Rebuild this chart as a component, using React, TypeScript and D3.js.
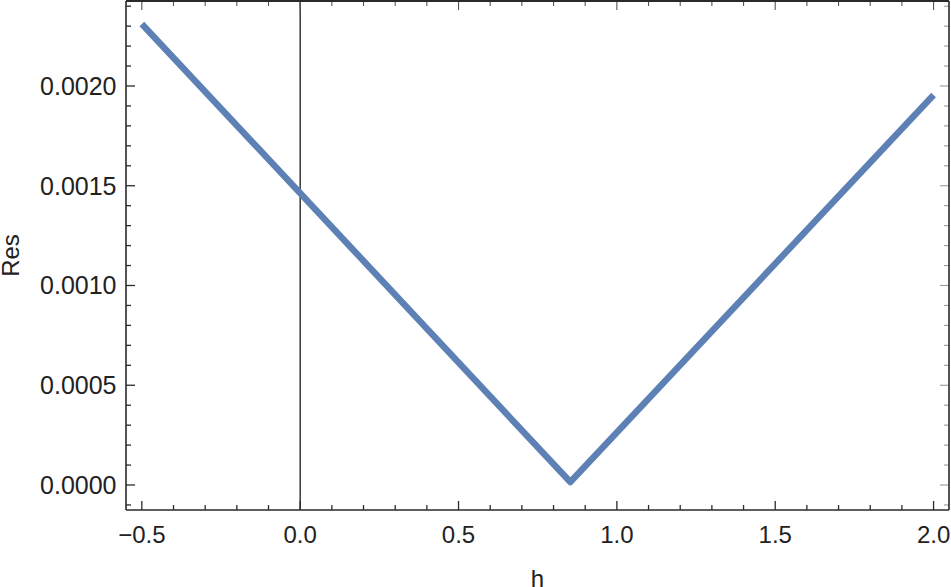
import React from "react";
import * as d3 from "d3";

const hValues = [-0.5, 0.853, 2.0];
const resValues = [0.002311, 0.000015, 0.001955];
const xTickValues = [-0.5, 0, 0.5, 1.0, 1.5, 2.0];
const xTickLabels = ["\u22120.5", "0.0", "0.5", "1.0", "1.5", "2.0"];
const yTickValues = [0, 0.0005, 0.001, 0.0015, 0.002];
const yTickLabels = ["0.0000", "0.0005", "0.0010", "0.0015", "0.0020"];
const xLabel = "h";
const yLabel = "Res";

const W = 951;
const H = 587;
const L = 126, R = 949, T = 1, B = 510;

export default function App() {
  const x = d3.scaleLinear().domain([-0.55, 2.05]).range([L, R + 0.4]);
  const y = d3.scaleLinear().domain([-0.0001253, 0.002426]).range([B, T]);
  const data = hValues.map((h, i) => [h, resValues[i]] as [number, number]);
  const line = d3.line<[number, number]>().x(d => x(d[0])).y(d => y(d[1]));

  const xMinor = d3.range(-5, 21).map(i => i / 10).filter(v => x(v) >= L && x(v) <= R);
  const yMinor = d3.range(-1, 25).map(i => i / 10000).filter(v => y(v) <= B && y(v) >= T);
  const isMajorX = (v: number) => xTickValues.some(m => Math.abs(m - v) < 1e-9);
  const isMajorY = (v: number) => yTickValues.some(m => Math.abs(m - v) < 1e-12);

  const font = "'Liberation Sans', Arial, sans-serif";
  const dark = "#2a2a2a";
  const grey = "#9a9a9a";

  return (
    <svg width={W} height={H} style={{ position: "absolute", left: 0, top: 0 }} fontFamily={font}>
      <rect x={0} y={0} width={W} height={H} fill="white" />
      {/* axis at h=0 */}
      <line x1={x(0)} x2={x(0)} y1={T} y2={B} stroke={dark} strokeWidth={1.4} />
      {/* data line */}
      <path d={line(data) || ""} fill="none" stroke="#5E81B5" strokeWidth={6.5} strokeLinejoin="round" strokeLinecap="butt" />
      {/* bottom & top ticks */}
      {xMinor.map((v, i) => {
        const len = isMajorX(v) ? 9 : 5;
        return (
          <g key={"xt" + i}>
            <line x1={x(v)} x2={x(v)} y1={B} y2={B - len} stroke={dark} strokeWidth={1.3} />
            <line x1={x(v)} x2={x(v)} y1={T} y2={T + len} stroke="#555" strokeWidth={1.1} />
          </g>
        );
      })}
      {/* left & right ticks */}
      {yMinor.map((v, i) => {
        const len = isMajorY(v) ? 9 : 5;
        return (
          <g key={"yt" + i}>
            <line x1={L} x2={L + len} y1={y(v)} y2={y(v)} stroke={dark} strokeWidth={1.3} />
            <line x1={R} x2={R - len} y1={y(v)} y2={y(v)} stroke={grey} strokeWidth={1.1} />
          </g>
        );
      })}
      {/* frame */}
      <line x1={L} x2={L} y1={T} y2={B} stroke={dark} strokeWidth={1.6} />
      <line x1={L} x2={R} y1={B} y2={B} stroke={dark} strokeWidth={1.6} />
      <line x1={L} x2={R} y1={T} y2={T} stroke={dark} strokeWidth={2} />
      <line x1={R} x2={R} y1={T} y2={B} stroke={dark} strokeWidth={1.6} />
      {/* tick labels */}
      {xTickValues.map((v, i) => (
        <text key={"xl" + i} x={x(v)} y={543} textAnchor="middle" fontSize={24} fill="#222">
          {xTickLabels[i]}
        </text>
      ))}
      {yTickValues.map((v, i) => (
        <text key={"yl" + i} x={116.5} y={y(v)} dy="0.36em" textAnchor="end" fontSize={25} fill="#222">
          {yTickLabels[i]}
        </text>
      ))}
      <text x={(L + R) / 2} y={587} textAnchor="middle" fontSize={24} fill="#222">{xLabel}</text>
      <text transform={`translate(19, ${(T + B) / 2}) rotate(-90)`} textAnchor="middle" fontSize={24} fill="#222">{yLabel}</text>
    </svg>
  );
}
